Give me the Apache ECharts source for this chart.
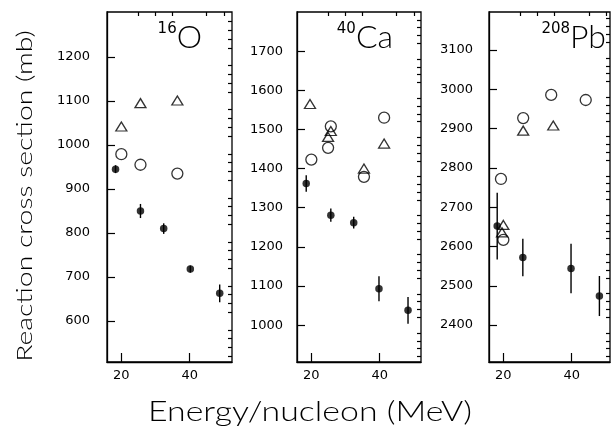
<!DOCTYPE html>
<html>
<head>
<meta charset="utf-8">
<script src="https://cdn.jsdelivr.net/npm/echarts@6/dist/echarts.min.js"></script>
<style>
  html, body { margin: 0; padding: 0; background: #fff; }
  #chart { width: 611px; height: 442px; }
</style>
</head>
<body>
<div id="chart"></div>
<script>
// 16O
const oDotE = [18.3, 25.6, 32.4, 40.2, 48.8];
const oDotV = [945, 850, 810, 718, 663];
const oDotErr = [9, 16, 12, 8, 20];
const oCircE = [20.0, 25.6, 36.4];
const oCircV = [979, 955, 935];
const oTriE = [20.0, 25.6, 36.4];
const oTriV = [1042, 1095, 1101];
const oTicks = [600, 700, 800, 900, 1000, 1100, 1200];

// 40Ca
const caDotE = [18.5, 25.7, 32.4, 39.8, 48.3];
const caDotV = [1362, 1281, 1262, 1093, 1038];
const caDotErr = [21, 17, 15, 32, 34];
const caCircE = [20.0, 24.9, 25.7, 35.4, 41.3];
const caCircV = [1423, 1453, 1508, 1379, 1530];
const caTriE = [19.6, 24.9, 25.7, 35.4, 41.3];
const caTriV = [1565, 1481, 1496, 1400, 1464];
const caTicks = [1000, 1100, 1200, 1300, 1400, 1500, 1600, 1700];

// 208Pb
const pbDotE = [18.2, 25.7, 39.8, 48.1];
const pbDotV = [2652, 2572, 2544, 2474];
const pbDotErr = [85, 48, 63, 51];
const pbCircE = [19.3, 20.0, 25.8, 34.0, 44.1];
const pbCircV = [2772, 2617, 2927, 2986, 2973];
const pbTriE = [20.0, 19.6, 25.8, 34.6];
const pbTriV = [2655, 2636, 2895, 2908];
const pbTicks = [2400, 2500, 2600, 2700, 2800, 2900, 3000, 3100];

const xMajor = [20, 40];
const xMinor = [25, 30, 35, 45, 50];

const panels = [
  { left: 107, width: 125, xMax: 52.4, yMin: 507, yMax: 1302, ticks: oTicks, margin: 17,
    dotE: oDotE, dotV: oDotV, dotErr: oDotErr, circE: oCircE, circV: oCircV, triE: oTriE, triV: oTriV,
    sup: '16', el: 'O', labelX: 202 },
  { left: 297, width: 124, xMax: 52.1, yMin: 906, yMax: 1800, ticks: caTicks, margin: 14,
    dotE: caDotE, dotV: caDotV, dotErr: caDotErr, circE: caCircE, circV: caCircV, triE: caTriE, triV: caTriV,
    sup: '40', el: 'Ca', labelX: 393 },
  { left: 489, width: 121, xMax: 51.2, yMin: 2306, yMax: 3197, ticks: pbTicks, margin: 16,
    dotE: pbDotE, dotV: pbDotV, dotErr: pbDotErr, circE: pbCircE, circV: pbCircV, triE: pbTriE, triV: pbTriV,
    sup: '208', el: 'Pb', labelX: 606 }
];

const zip = (a, b) => a.map((v, i) => [v, b[i]]);
const minorOf = (p) => {
  const out = [];
  for (let v = Math.ceil(p.yMin / 20) * 20; v <= p.yMax; v += 20) {
    if (v % 100 !== 0) out.push(v);
  }
  return out;
};

const labelFont = { fontFamily: 'DejaVu Sans', fontSize: 13, color: '#000', formatter: (v) => String(v) };
const axisLine = { show: true, lineStyle: { color: '#000', width: 1.3 } };

const grid = [], xAxis = [], yAxis = [], series = [], graphic = [];

panels.forEach((p, i) => {
  grid.push({ left: p.left, top: 12, width: p.width, height: 350, show: true,
    borderColor: '#000', borderWidth: 1.3, backgroundColor: '#fff' });

  // major + minor x axes
  xAxis.push({ type: 'value', gridIndex: i, min: 15.8, max: p.xMax,
    axisLine, splitLine: { show: false },
    axisTick: { inside: true, length: 9, lineStyle: { color: '#000', width: 1.2 }, customValues: xMajor },
    axisLabel: Object.assign({ margin: 7, customValues: xMajor }, labelFont) });
  xAxis.push({ type: 'value', gridIndex: i, min: 15.8, max: p.xMax,
    axisLine: { show: false }, splitLine: { show: false }, axisLabel: { show: false },
    axisTick: { inside: true, length: 4, lineStyle: { color: '#000', width: 1.2 }, customValues: xMinor } });

  // major + minor y axes
  yAxis.push({ type: 'value', gridIndex: i, min: p.yMin, max: p.yMax,
    axisLine, splitLine: { show: false },
    axisTick: { inside: true, length: 8, lineStyle: { color: '#000', width: 1.2 }, customValues: p.ticks },
    axisLabel: Object.assign({ margin: p.margin, customValues: p.ticks }, labelFont) });
  yAxis.push({ type: 'value', gridIndex: i, min: p.yMin, max: p.yMax,
    axisLine: { show: false }, splitLine: { show: false }, axisLabel: { show: false },
    axisTick: { inside: true, length: 4, lineStyle: { color: '#000', width: 1.2 }, customValues: minorOf(p) } });

  const xi = i * 2, yi = i * 2;

  series.push({ type: 'custom', xAxisIndex: xi, yAxisIndex: yi,
    data: p.dotE.map((e, k) => [e, p.dotV[k], p.dotErr[k]]),
    encode: { x: 0, y: 1 },
    renderItem: (params, api) => {
      const x = api.value(0), y = api.value(1), e = api.value(2);
      const a = api.coord([x, y - e]);
      const b = api.coord([x, y + e]);
      return { type: 'line', shape: { x1: a[0], y1: a[1], x2: b[0], y2: b[1] },
        style: { stroke: '#000', lineWidth: 1.4 } };
    }, silent: true, z: 2 });

  series.push({ type: 'scatter', xAxisIndex: xi, yAxisIndex: yi, data: zip(p.triE, p.triV),
    symbol: 'triangle', symbolSize: [11, 9],
    itemStyle: { color: 'rgba(255,255,255,0)', borderColor: '#000', borderWidth: 1.3 }, z: 3 });
  series.push({ type: 'scatter', xAxisIndex: xi, yAxisIndex: yi, data: zip(p.circE, p.circV),
    symbol: 'circle', symbolSize: 11,
    itemStyle: { color: 'rgba(255,255,255,0)', borderColor: '#000', borderWidth: 1.3 }, z: 3 });
  series.push({ type: 'scatter', xAxisIndex: xi, yAxisIndex: yi, data: zip(p.dotE, p.dotV),
    symbol: 'circle', symbolSize: 7.5, itemStyle: { color: '#000' }, z: 4 });

  graphic.push({ type: 'text', right: 611 - p.labelX, top: 22, z: 10,
    style: { text: '{s|' + p.sup + '}{b|' + p.el + '}',
      rich: {
        s: { fontFamily: 'DejaVu Sans', fontSize: 15, verticalAlign: 'top', padding: [0, 0, 12, 0], fill: '#000' },
        b: { fontFamily: 'Lato', fontWeight: 300, fontSize: 32, fill: '#000' }
      } } });
});

graphic.push({ type: 'text', x: 25, y: 196, rotation: Math.PI / 2, scaleX: 1.35, z: 10,
  style: { text: 'Reaction cross section (mb)', fontFamily: 'Lato', fontWeight: 300,
    fontSize: 21, fill: '#000', align: 'center', verticalAlign: 'middle' } });
graphic.push({ type: 'text', x: 310, y: 412, scaleX: 1.21, z: 10,
  style: { text: 'Energy/nucleon (MeV)', fontFamily: 'Lato', fontWeight: 300,
    fontSize: 28, fill: '#000', align: 'center', verticalAlign: 'middle' } });

const chart = echarts.init(document.getElementById('chart'));
chart.setOption({
  animation: false,
  backgroundColor: '#fff',
  grid, xAxis, yAxis, series, graphic
});
</script>
</body>
</html>
